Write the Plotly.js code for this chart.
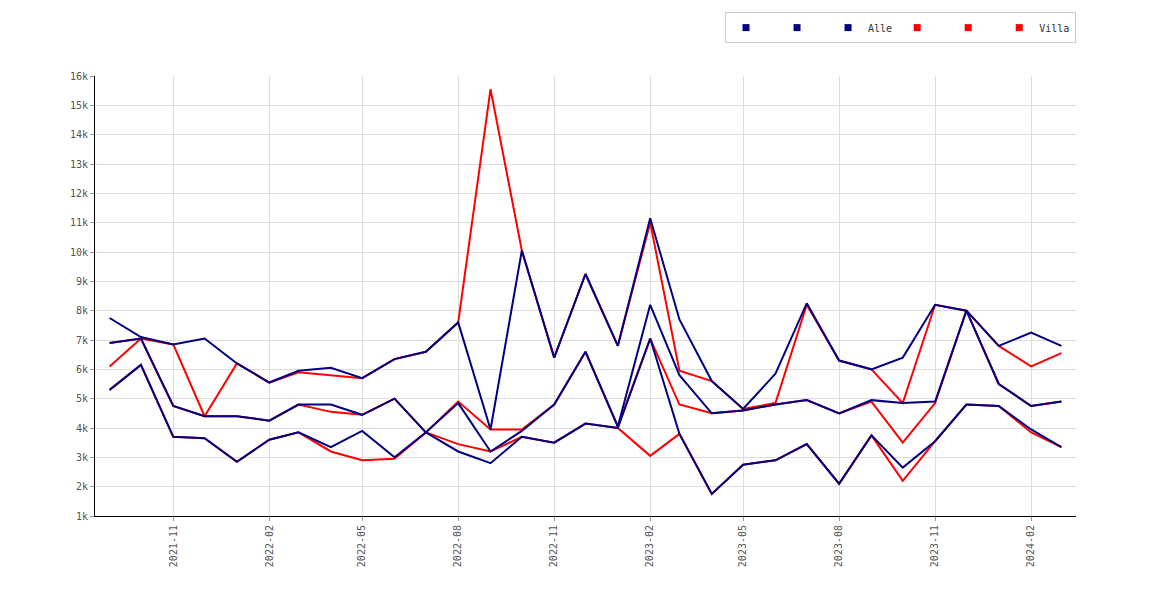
<html><head><script src="https://cdn.plot.ly/plotly-3.0.1.min.js"></script></head><body style="margin:0"><div id="c" style="width:1170px;height:600px"></div><script>
const months=["2021-09","2021-10","2021-11","2021-12","2022-01","2022-02","2022-03","2022-04","2022-05","2022-06","2022-07","2022-08","2022-09","2022-10","2022-11","2022-12","2023-01","2023-02","2023-03","2023-04","2023-05","2023-06","2023-07","2023-08","2023-09","2023-10","2023-11","2023-12","2024-01","2024-02","2024-03"];
const alleHigh=[7750,7100,6850,7050,6200,5550,5950,6050,5700,6350,6600,7600,3950,10050,6400,9250,6800,11150,7700,5600,4650,5850,8250,6300,6000,6400,8200,8000,6800,7250,6800];
const alleMid=[6900,7050,4750,4400,4400,4250,4800,4800,4450,5000,3850,4850,3200,3900,4800,6600,4050,8200,5800,4500,4600,4800,4950,4500,4950,4850,4900,8000,5500,4750,4900];
const alleLow=[5300,6150,3700,3650,2850,3600,3850,3350,3900,3000,3850,3200,2800,3700,3500,4150,4000,7050,3800,1750,2750,2900,3450,2100,3750,2650,3550,4800,4750,3950,3350];
const villaHigh=[6100,7050,6850,4400,6200,5550,5900,5800,5700,6350,6600,7600,15550,10050,6400,9250,6800,11000,5950,5600,4650,4850,8200,6300,6000,4850,8200,8000,6800,6100,6550];
const villaMid=[6900,7050,4750,4400,4400,4250,4800,4550,4450,5000,3850,4900,3950,3950,4800,6600,4050,7050,4800,4500,4600,4800,4950,4500,4900,3500,4850,8000,5500,4750,4900];
const villaLow=[5300,6150,3700,3650,2850,3600,3850,3200,2900,2950,3850,3450,3200,3700,3500,4150,4000,3050,3800,1750,2750,2900,3450,2100,3750,2200,3550,4800,4750,3850,3350];
const x=months.map(m=>m+"-01");
const red="#ff0000",blue="#000080";
const tr=(y,c)=>({x:x,y:y,mode:"lines",line:{color:c,width:2},showlegend:false,hoverinfo:"skip"});
const leg=(n,c)=>({x:[null],y:[null],mode:"markers",name:n,marker:{symbol:"square",size:7,color:c}});
const data=[tr(villaHigh,red),tr(villaMid,red),tr(villaLow,red),tr(alleHigh,blue),tr(alleMid,blue),tr(alleLow,blue),
leg(" ",blue),leg(" ",blue),leg("Alle",blue),leg(" ",red),leg(" ",red),leg("Villa",red)];
const ax={showline:true,linecolor:"#000",gridcolor:"#dddddd",zeroline:false,ticks:"outside",ticklen:4,tickcolor:"#999",tickfont:{family:"DejaVu Sans Mono",size:10,color:"#555"}};
Plotly.newPlot("c",data,{width:1170,height:600,margin:{l:95,r:94,t:72,b:84},paper_bgcolor:"#fff",plot_bgcolor:"#fff",
xaxis:Object.assign({},ax,{type:"date",range:["2021-08-18","2024-03-15"],tick0:"2021-11-01",dtick:"M3",tickformat:"%Y-%m",tickangle:-90,showline:true}),
yaxis:Object.assign({},ax,{range:[1000,16000],dtick:1000}),
legend:{orientation:"h",x:1.0,xanchor:"right",y:1.11,yanchor:"middle",bordercolor:"#ccc",borderwidth:1,font:{family:"DejaVu Sans Mono",size:10,color:"#333"},itemwidth:14,tracegroupgap:0}
},{displayModeBar:false});
</script></body></html>
